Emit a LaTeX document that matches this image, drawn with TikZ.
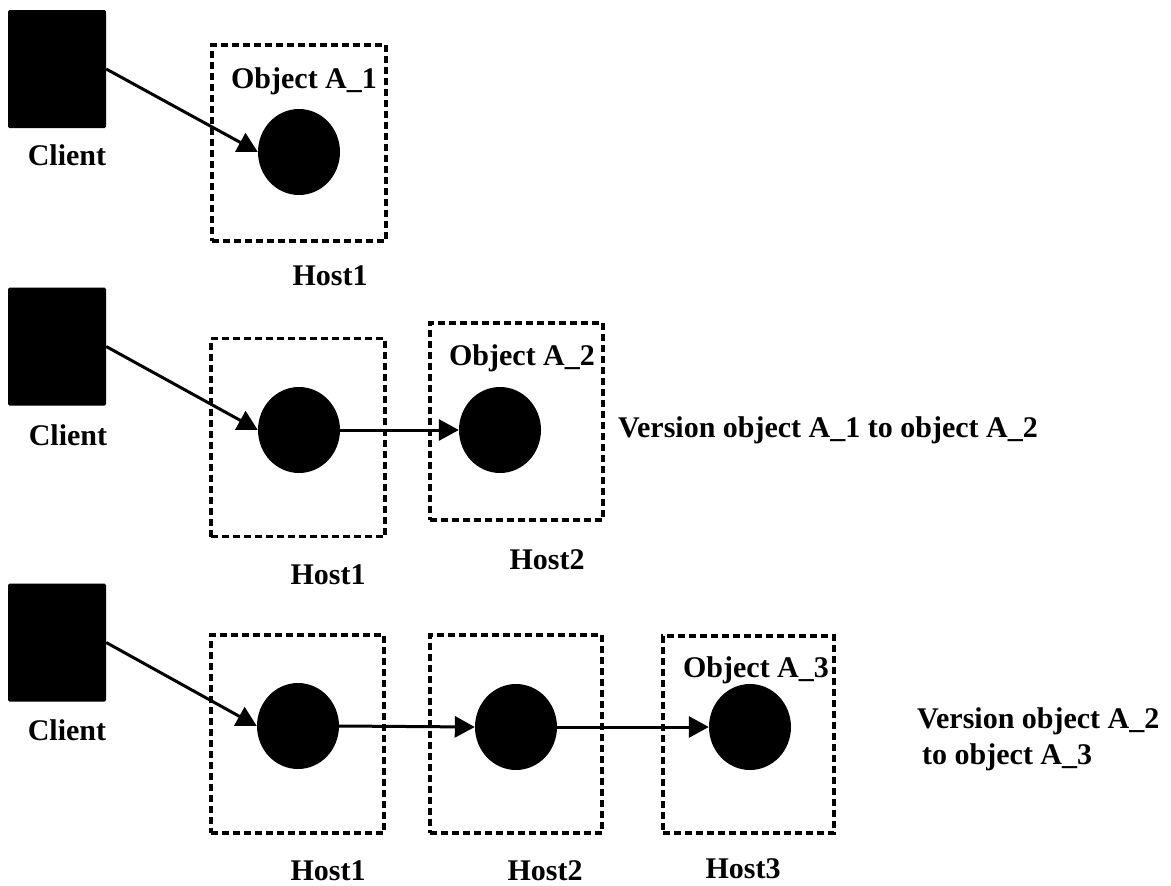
\documentclass[tikz,border=0pt]{standalone}
\usepackage{fontspec}
\setmainfont{Liberation Serif}
\usetikzlibrary{arrows.meta,shapes.geometric}
\begin{document}
\begin{tikzpicture}[x=1pt,y=-1pt,
  lbl/.style={font=\fontsize{30}{36}\selectfont\bfseries, inner sep=0pt},
  client/.style={fill=black, draw=none, minimum width=98pt, minimum height=118pt,
                 inner sep=0pt, rounded corners=1.5pt},
  hostbox/.style={draw=black, line width=3.2pt, dash pattern=on 7pt off 4pt, inner sep=0pt},
  obj/.style={ellipse, fill=black, minimum width=82pt, minimum height=86pt, inner sep=0pt},
  link/.style={line width=3pt, -{Triangle[length=20pt,width=21pt]}}
]
\useasboundingbox (0,0) rectangle (1171,886);

% ---------- first stage: object A_1 on Host1 ----------
\node[client] (k1) at (57,69) {};
\node[lbl, anchor=base] (k1l) at (67,165) {Client};
\node[hostbox, minimum width=174pt, minimum height=196pt] (h11) at (299,143) {};
\node[lbl, anchor=base] (o1) at (304,88) {Object A\_1};
\node[obj] (c11) at (299,152) {};
\node[lbl, anchor=base] (h11l) at (330,285) {Host1};
\draw[link] (k1.east) -- (c11.west);

% ---------- second stage: A_1 versioned to A_2 on Host2 ----------
\node[client] (k2) at (57,346.5) {};
\node[lbl, anchor=base] (k2l) at (68,445) {Client};
\node[hostbox, minimum width=174pt, minimum height=198pt] (h21) at (298,437.5) {};
\node[hostbox, minimum width=173pt, minimum height=197pt] (h22) at (516.5,421.5) {};
\node[lbl, anchor=base] (o2) at (522,365) {Object A\_2};
\node[obj] (c21) at (299,430) {};
\node[obj] (c22) at (500,430) {};
\node[lbl, anchor=base] (h21l) at (328,584) {Host1};
\node[lbl, anchor=base] (h22l) at (547,569) {Host2};
\node[lbl, anchor=base west] (v1) at (618,437) {Version object A\_1 to object A\_2};
\draw[link] (k2.east) -- (c21.west);
\draw[link] (c21.east) -- (c22.west);

% ---------- third stage: A_2 versioned to A_3 on Host3 ----------
\node[client] (k3) at (57,642.5) {};
\node[lbl, anchor=base] (k3l) at (67,740) {Client};
\node[hostbox, minimum width=173pt, minimum height=198pt] (h31) at (297.5,734) {};
\node[hostbox, minimum width=172pt, minimum height=198pt] (h32) at (516,734) {};
\node[hostbox, minimum width=171pt, minimum height=197pt] (h33) at (748.5,734.5) {};
\node[lbl, anchor=base] (o3) at (756,677) {Object A\_3};
\node[obj] (c31) at (298,726) {};
\node[obj] (c32) at (516,727) {};
\node[obj] (c33) at (750,727) {};
\node[lbl, anchor=base] (h31l) at (328,880) {Host1};
\node[lbl, anchor=base] (h32l) at (545,880) {Host2};
\node[lbl, anchor=base] (h33l) at (743,878) {Host3};
\node[lbl, align=left, anchor=north west] (v2) at (917,707)
  {Version object A\_2\\\hspace*{5pt}to object A\_3};
\draw[link] (k3.east) -- (c31.west);
\draw[link] (c31.east) -- (c32.west);
\draw[link] (c32.east) -- (c33.west);
\end{tikzpicture}
\end{document}
